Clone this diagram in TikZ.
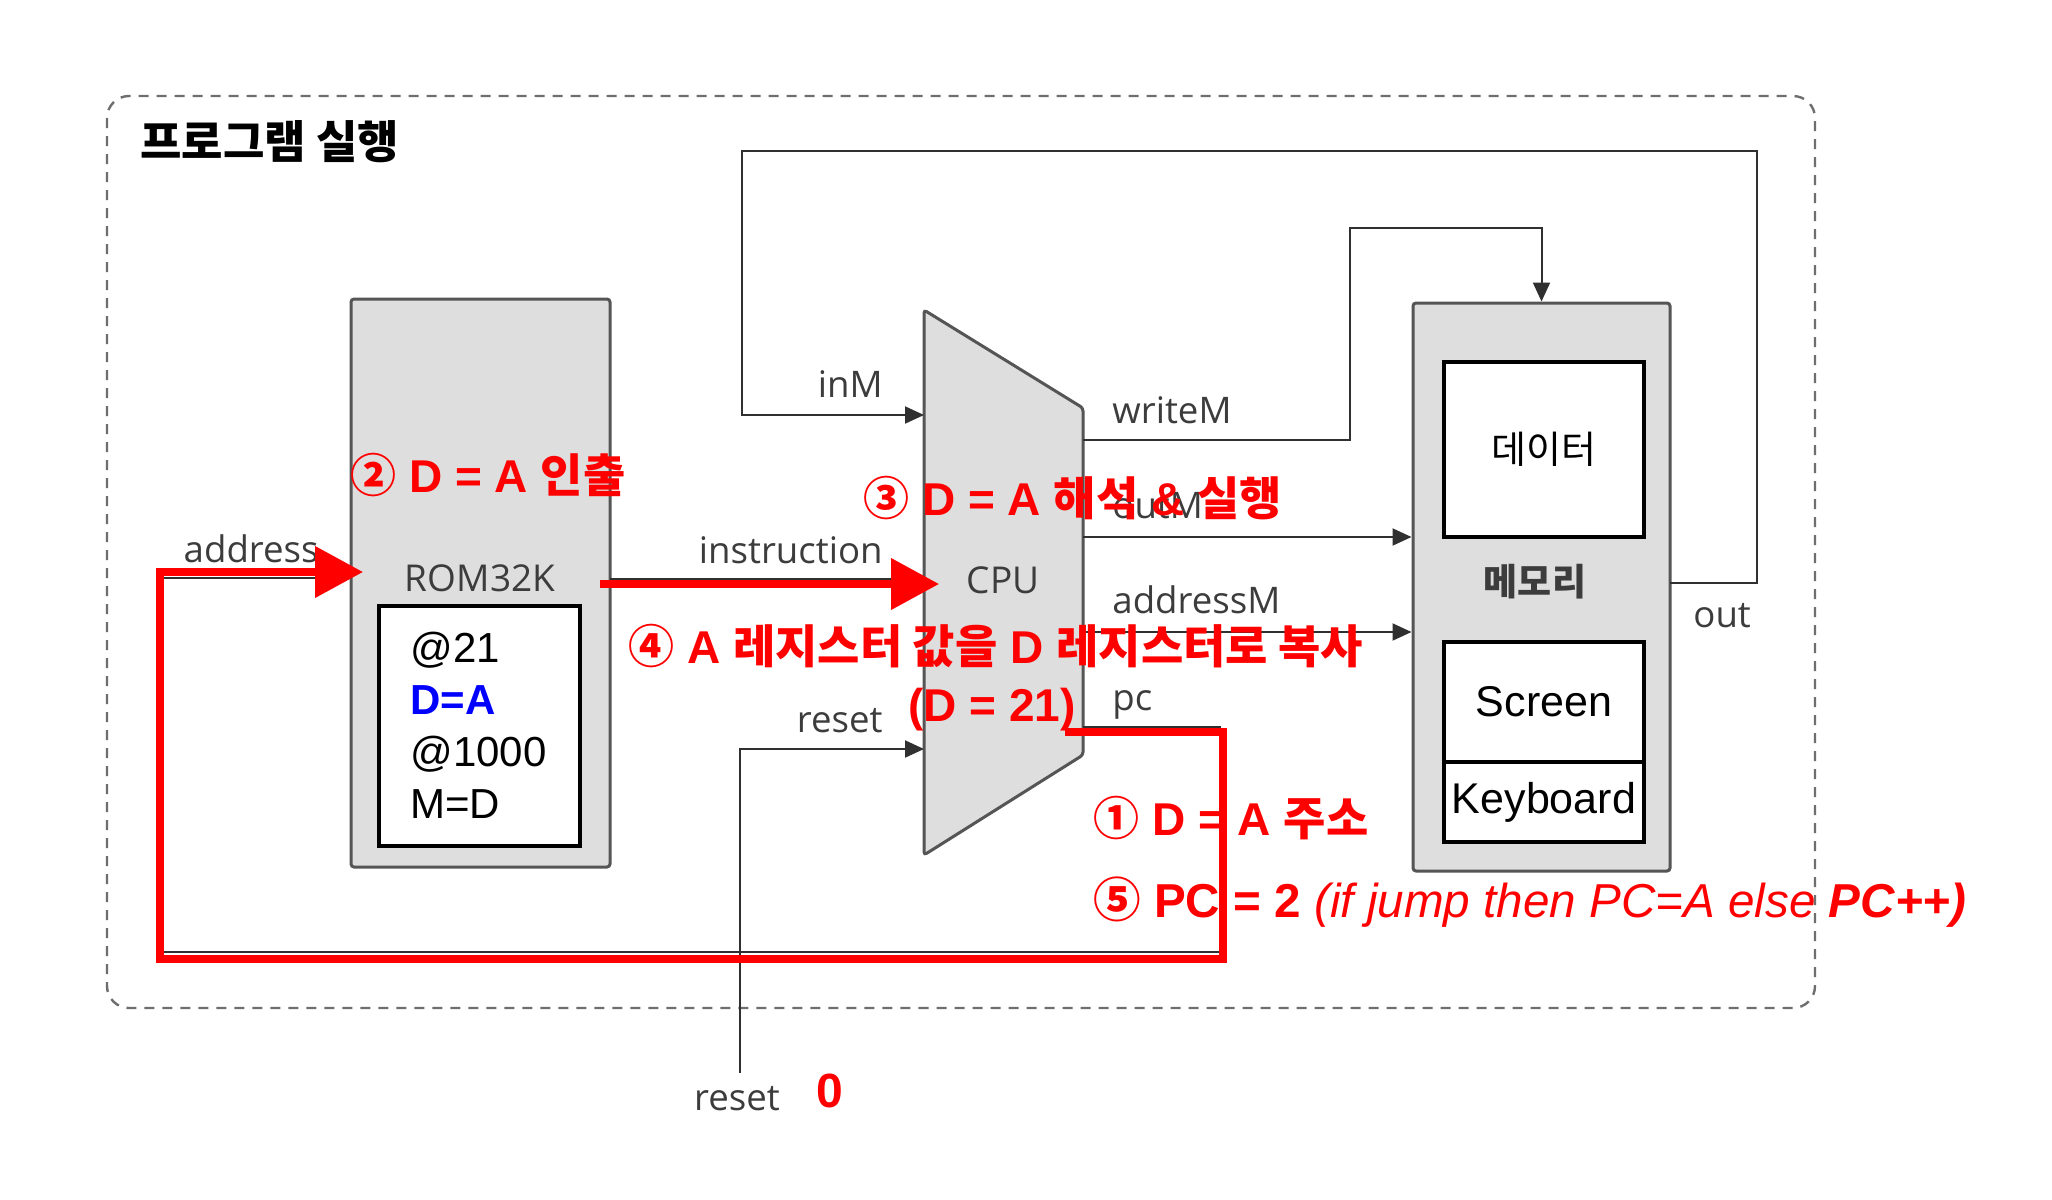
\documentclass[tikz,border=0pt]{standalone}
\usepackage{fontspec}
\setmainfont{Open Sans}
\newfontfamily\kr{Noto Sans CJK KR}
\newfontfamily\arial{Liberation Sans}
\usetikzlibrary{arrows.meta}
\newcommand\kor[1]{{\kr #1}}
\definecolor{labelgray}{HTML}{3C3C3C}
\definecolor{wiregray}{HTML}{303030}
\definecolor{boxgray}{HTML}{DEDEDE}
\definecolor{boxborder}{HTML}{555555}
\definecolor{framegray}{HTML}{6E6E6E}
\definecolor{codeblue}{HTML}{0000FF}
\definecolor{hred}{HTML}{FF0000}
\begin{document}
\begin{tikzpicture}[x=0.5pt,y=-0.5pt,
  lbl/.style={font=\fontsize{18.3}{20}\selectfont, text=labelgray, inner sep=0},
  redt/.style={font=\arial\bfseries\fontsize{23}{28}\selectfont, text=hred, inner sep=0, anchor=west},
  wire/.style={draw=wiregray, line width=1pt},
  arr/.style={wire, -{Triangle[length=9.5pt,width=8.5pt]}},
  redarr/.style={draw=hred, line width=3.8pt, -{Triangle[length=24pt,width=25pt]}},
  gbox/.style={fill=boxgray, draw=boxborder, line width=1.5pt, rounded corners=1.5pt},
  kbox/.style={draw=black, line width=2pt, fill=white, inner sep=0},
  framebox/.style={draw=framegray, line width=1.2pt, dash pattern=on 5pt off 4pt, rounded corners=11pt}
]
\useasboundingbox (0,0) rectangle (2052,1200);
\fill[white] (0,0) rectangle (2052,1200);

% outer dashed frame and title
\draw[framebox] (107,96) rectangle (1815,1008);
\node[font=\kr\bfseries\fontsize{22.5}{26}\selectfont, anchor=base west, inner sep=0] (title) at (140,158) {프로그램 실행};

% ports
\coordinate (pIn) at (924,415);
\coordinate (pInstr) at (924,579);
\coordinate (pReset) at (924,749);
\coordinate (pWrite) at (1083,440);
\coordinate (pOutM) at (1083,537);
\coordinate (pAddrM) at (1083,632);
\coordinate (pPC) at (1083,727);
\coordinate (resetEnd) at (740,1073);
\coordinate (pOut) at (1670,583);
\coordinate (romOut) at (610,579);
\coordinate (romAddr) at (351,578);

% boxes
\node[gbox, minimum width=129.5pt, minimum height=284pt] (rom) at (480.5,583) {};
\node[gbox, minimum width=128.5pt, minimum height=284pt] (mem) at (1541.5,587) {};
\draw[gbox] (924,310) -- (1083,408) -- (1083,755) -- (924,855) -- cycle;

% wires
\draw[arr] (pOut) -- (1757,583) -- (1757,151) -- (742,151) |- (pIn);
\draw[arr] (pWrite) -- (1350,440) -- (1350,228) -| (mem.north);
\draw[arr] (pOutM) -- (pOutM -| mem.west);
\draw[arr] (pAddrM) -- (pAddrM -| mem.west);
\draw[arr] (pPC) -- (1220,727) -- (1220,952) -- (163,952) |- (romAddr);
\draw[arr] (resetEnd) |- (pReset);
\draw[arr] (romOut) -- (pInstr);

% box contents
\node[lbl, font=\fontsize{18.5}{20}\selectfont] (romlbl) at (480,578) {ROM32K};
\node[kbox, minimum width=100.5pt, minimum height=120pt] (code) at (479.5,726) {};
\node[anchor=base west, inner sep=0, align=left, font=\arial\fontsize{21}{26}\selectfont] (codetext) at (410,818)
  {@21\\ \textbf{\color{codeblue}D=A}\\ @1000\\ M=D};
\node[lbl, font=\fontsize{18.5}{20}\selectfont] (cpu) at (1003,580) {CPU};
\node[kbox, minimum width=100pt, minimum height=87.5pt, font=\kr\fontsize{19}{22}\selectfont] (data) at (1544,449.5) {데이터};
\node[lbl, font=\kr\bfseries\fontsize{18.5}{20}\selectfont, text=labelgray] (memlbl) at (1535,582) {메모리};
\node[kbox, minimum width=100pt, minimum height=60pt, font=\arial\fontsize{21.5}{24}\selectfont] (screen) at (1544,702) {Screen};
\node[kbox, minimum width=100pt, minimum height=40pt, font=\arial\fontsize{21.5}{24}\selectfont] (keyboard) at (1544,802) {Keyboard};

% wire labels
\node[lbl, anchor=base east] (lInM) at (883,397) {inM};
\node[lbl, anchor=base east] (lInstr) at (883,563) {instruction};
\node[lbl, anchor=base east] (lReset) at (883,732) {reset};
\node[lbl, anchor=base east] (lAddr) at (319,562) {address};
\node[lbl, anchor=base west] (lWrite) at (1112,423) {writeM};
\node[lbl, anchor=base west] (lOutM) at (1112,518) {outM};
\node[lbl, anchor=base west] (lAddrM) at (1112,613) {addressM};
\node[lbl, anchor=base west] (lPC) at (1112,710) {pc};
\node[lbl, anchor=base west] (lOut) at (1693,627) {out};
\node[lbl, anchor=base] (lReset2) at (737,1110) {reset};
\node[font=\arial\bfseries\fontsize{24}{28}\selectfont, text=hred, inner sep=0] (zero) at (830,1091) {0};

% red overlay
\coordinate (redStart) at (1065,732);
\coordinate (romAddrR) at (363,572);
\coordinate (rInstrA) at (600,584);
\coordinate (rInstrB) at (939,584);
\draw[redarr] (redStart) -- (1223,732) -- (1223,959) -- (160,959) |- (romAddrR);
\draw[redarr] (rInstrA) -- (rInstrB);

\node[redt] (t2) at (350,475) {\kor{②} D = A \kor{인출}};
\node[redt] (t3) at (863,498) {\kor{③} D = A \kor{해석} \& \kor{실행}};
\node[redt] (t4) at (628,646) {\kor{④} A \kor{레지스터 값을} D \kor{레지스터로 복사}};
\node[redt] (t4b) at (908,710) {(D = 21)};
\node[redt] (t1) at (1093,818) {\kor{①} D = A \kor{주소}};
\node[redt, font=\arial\bfseries\fontsize{23.8}{28}\selectfont] (t5) at (1093,902) {\kor{⑤} PC = 2 {\mdseries\itshape (if jump then PC=A else }{\itshape PC++)}};
\end{tikzpicture}
\end{document}
